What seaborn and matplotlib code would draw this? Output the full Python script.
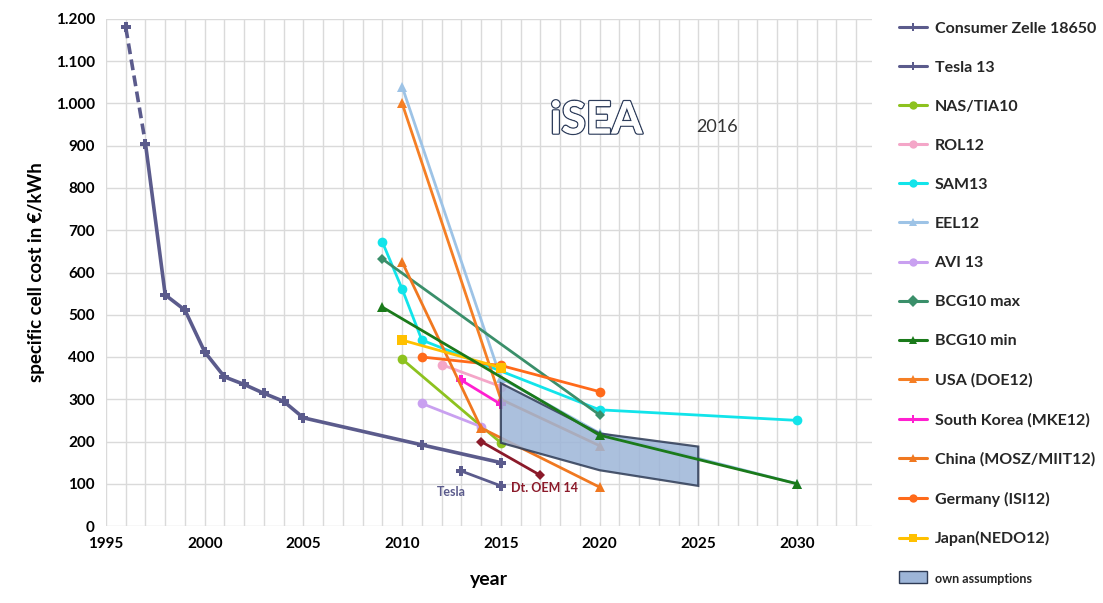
import numpy as np
import pandas as pd
import matplotlib
matplotlib.use("Agg")
import matplotlib.pyplot as plt
import matplotlib.patheffects as pe
from matplotlib.lines import Line2D
from matplotlib.patches import Patch, Polygon
import seaborn as sns

# --- data ---
consumer_years = [1996, 1997, 1998, 1999, 2000, 2001, 2002, 2003, 2004, 2005, 2011, 2015]
consumer_cost = [1180, 905, 547, 511, 412, 353, 335, 314, 295, 256, 192, 150]
tesla_years = [2013, 2015]
tesla_cost = [130, 95]
oem_years = [2014, 2017]
oem_cost = [200, 120]
nas_years = [2010, 2015]
nas_cost = [395, 197]
rol_years = [2012, 2015]
rol_cost = [382, 330]
sam_years = [2009, 2010, 2011, 2020, 2030]
sam_cost = [672, 561, 440, 275, 250]
eel_years = [2010, 2015, 2020, 2030]
eel_cost = [1040, 350, 220, 100]
avi_years = [2011, 2014]
avi_cost = [290, 235]
bcg_max_years = [2009, 2020]
bcg_max_cost = [632, 263]
bcg_min_years = [2009, 2020, 2030]
bcg_min_cost = [518, 215, 100]
usa_years = [2010, 2015, 2020]
usa_cost = [1000, 300, 190]
korea_years = [2013, 2015]
korea_cost = [345, 288]
china_years = [2010, 2014, 2020]
china_cost = [625, 232, 92]
germany_years = [2011, 2015, 2020]
germany_cost = [400, 380, 318]
japan_years = [2010, 2015]
japan_cost = [440, 375]
own_years = [2015, 2020, 2025, 2025, 2020, 2015]
own_cost = [338, 219, 188, 95, 132, 197]

# name, years, cost, color, marker, legend?
series = [
    ("Consumer Zelle 18650", consumer_years, consumer_cost, "#5B5B8C", "P", True),
    ("Tesla 13", tesla_years, tesla_cost, "#5B5B8C", "P", True),
    ("NAS/TIA10", nas_years, nas_cost, "#8DC21F", "o", True),
    ("ROL12", rol_years, rol_cost, "#F4A6C8", "o", True),
    ("SAM13", sam_years, sam_cost, "#12E4EA", "o", True),
    ("EEL12", eel_years, eel_cost, "#9DC3E6", "^", True),
    ("AVI 13", avi_years, avi_cost, "#C9A0F0", "o", True),
    ("BCG10 max", bcg_max_years, bcg_max_cost, "#3A8F6A", "D", True),
    ("BCG10 min", bcg_min_years, bcg_min_cost, "#1A7A1A", "^", True),
    ("USA (DOE12)", usa_years, usa_cost, "#F57F25", "^", True),
    ("South Korea (MKE12)", korea_years, korea_cost, "#FF1FD0", "P", True),
    ("China (MOSZ/MIIT12)", china_years, china_cost, "#F07820", "^", True),
    ("Germany (ISI12)", germany_years, germany_cost, "#FF6A1A", "o", True),
    ("Japan(NEDO12)", japan_years, japan_cost, "#FFC000", "s", True),
    ("Dt. OEM 14", oem_years, oem_cost, "#8B1A2A", "D", False),
]

sns.set_theme(style="white")
plt.rcParams["font.family"] = ["Lato", "DejaVu Sans"]

fig = plt.figure(figsize=(11.03, 6.03), dpi=100)
ax = fig.add_axes([106 / 1103, 1 - 526 / 603, 766 / 1103, 507 / 603])

handles = []
for name, yrs, cost, color, marker, in_legend in series:
    df = pd.DataFrame({"year": yrs, "cost": cost})
    lw = 2.6 if name == "Consumer Zelle 18650" else 2.0
    z = 4 if name == "BCG10 min" else 2
    if name == "Consumer Zelle 18650":
        # first segment is dashed
        sns.lineplot(data=df.iloc[:2], x="year", y="cost", ax=ax, color=color,
                     lw=lw, marker=marker, markersize=7, markeredgewidth=0,
                     linestyle=(0, (3, 1.5)), zorder=z)
        df = df.iloc[1:]
    sns.lineplot(data=df, x="year", y="cost", ax=ax, color=color, lw=lw,
                 marker=marker, markersize=7 if marker != "D" else 5.5,
                 markeredgewidth=0, sort=False, zorder=z)
    if in_legend:
        handles.append(Line2D([], [], color=color, lw=2.2, marker=marker,
                              markersize=6, markeredgewidth=0, label=name))

poly = Polygon(list(zip(own_years, own_cost)), closed=True, facecolor="#9DB5D8",
               edgecolor="#2E3B55", lw=1.6, alpha=0.85, zorder=3)
ax.add_patch(poly)
handles.append(Patch(facecolor="#9DB5D8", edgecolor="#2E3B55", label="own assumptions"))

ax.text(2012.5, 80, "Tesla", color="#5B5B8C", fontsize=9, fontweight="bold",
        ha="center", va="center")
ax.text(2015.5, 90, "Dt. OEM 14", color="#8B1A2A", fontsize=9, fontweight="bold",
        ha="left", va="center")

# logo
ax.text(2017.5, 960, "iSEA", fontsize=32, color="white", fontweight="bold",
        ha="left", va="center",
        path_effects=[pe.withStroke(linewidth=2.0, foreground="#2F3E5C"), pe.Normal()])
ax.text(2024.9, 945, "2016", fontsize=13, color="#333333", ha="left", va="center")

ax.set_xlim(1995, 2033.8)
ax.set_ylim(0, 1200)
ax.set_xticks(range(1995, 2031, 5))
ax.set_xticks(range(1995, 2034), minor=True)
ax.set_yticks(range(0, 1201, 100))
ax.set_yticklabels([f"{v:,}".replace(",", ".") for v in range(0, 1201, 100)])
ax.grid(True, which="both", color="#DADADA", lw=1.0)
ax.set_axisbelow(True)
for s in ax.spines.values():
    s.set_visible(False)
ax.tick_params(axis="both", which="both", length=0, labelsize=11, pad=8,
               labelcolor="black")
for lab in ax.get_xticklabels() + ax.get_yticklabels():
    lab.set_fontweight("bold")
ax.set_xlabel("year", fontsize=14, fontweight="bold", labelpad=14, color="black")
ax.set_ylabel("specific cell cost in €/kWh", fontsize=13.5, fontweight="bold",
              labelpad=8, color="black")

leg = fig.legend(handles=handles, loc="upper left",
                 bbox_to_anchor=(885 / 1103, 1 - 7 / 603), frameon=False,
                 prop={"weight": "bold", "size": 11.5}, labelspacing=1.56,
                 handlelength=1.7, handletextpad=0.5)
leg.get_texts()[-1].set_fontsize(9)

fig.savefig("out.png", dpi=100)
